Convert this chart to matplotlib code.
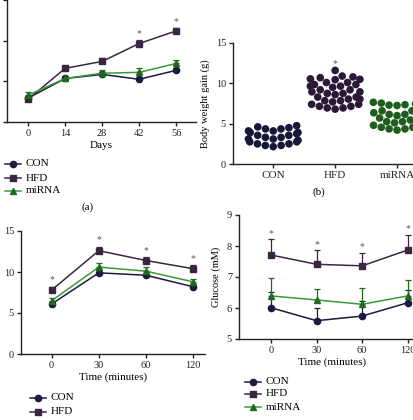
import matplotlib
matplotlib.use("Agg")
import matplotlib.pyplot as plt
import seaborn as sns
import numpy as np
import pandas as pd
from matplotlib.lines import Line2D
import warnings
warnings.filterwarnings("ignore")

plt.rcParams['font.family'] = ['Liberation Serif', 'DejaVu Serif']

W, H = 414, 420

# ---------------- data ----------------
groups = ["CON", "HFD", "miRNA"]

# (a) body weight over days
days = [0, 14, 28, 42, 56]
a_con = [5.9, 10.7, 11.7, 10.5, 12.7]
a_hfd = [5.6, 13.2, 14.9, 19.3, 22.4]
a_mir = [6.6, 10.7, 12.0, 12.2, 14.4]
a_con_err = [0.5, 0.4, 0.6, 0.5, 0.5]
a_hfd_err = [0.6, 0.4, 0.8, 0.8, 0.7]
a_mir_err = [0.7, 0.5, 0.8, 1.0, 0.8]
a_yticks = [0, 10, 20, 30]

# (b) body weight gain per animal
b_con = [4.75, 4.6, 4.5,
         3.75, 3.9, 3.9, 4.1, 4.1, 4.35, 4.35,
         2.95, 3.1, 3.1, 3.3, 3.3, 3.55, 3.55,
         2.15, 2.3, 2.3, 2.5, 2.5, 2.75, 2.75]
b_hfd = [11.6,
         10.45, 10.5, 10.55, 10.7, 10.8, 10.9,
         9.5, 9.65, 9.65, 9.85, 9.85, 10.1, 10.1,
         8.6, 8.75, 8.75, 8.95, 8.95, 9.2, 9.2,
         7.7, 7.85, 7.85, 8.05, 8.05, 8.3, 8.3,
         6.8, 6.95, 6.95, 7.15, 7.15, 7.4, 7.4]
b_mir = [7.25, 7.3, 7.35, 7.45, 7.55, 7.65,
         6.0, 6.15, 6.15, 6.35, 6.35, 6.6, 6.6,
         5.1, 5.25, 5.25, 5.45, 5.45, 5.7, 5.7,
         4.2, 4.35, 4.35, 4.55, 4.55, 4.8, 4.8]

# (c) glucose tolerance
time_labels = ["0", "30", "60", "120"]
c_con = [6.1, 9.9, 9.6, 8.2]
c_hfd = [7.8, 12.6, 11.4, 10.4]
c_mir = [6.5, 10.6, 10.1, 8.8]
c_con_err = [0.3, 0.3, 0.3, 0.3]
c_hfd_err = [0.4, 0.5, 0.4, 0.4]
c_mir_err = [0.3, 0.5, 0.5, 0.4]

# (d) glucose
d_con = [6.01, 5.59, 5.74, 6.17]
d_hfd = [7.71, 7.41, 7.36, 7.87]
d_mir = [6.39, 6.26, 6.12, 6.39]
d_con_err = [0.50, 0.40, 0.50, 0.42]
d_hfd_err = [0.50, 0.45, 0.42, 0.48]
d_mir_err = [0.58, 0.34, 0.53, 0.50]

col_con = '#1b1b3f'
col_hfd = '#3b2642'
col_mir_line = '#3a9a3a'
col_mir_mk = '#1f6a1f'
swarm_cols = ['#17173a', '#2a1838', '#1d5e1d']
axis_col = '#222222'


def rect(x0, ytop, x1, ybot):
    return [x0 / W, 1 - ybot / H, (x1 - x0) / W, (ybot - ytop) / H]


def style(ax):
    for s in ['top', 'right']:
        ax.spines[s].set_visible(False)
    for s in ['left', 'bottom']:
        ax.spines[s].set_color(axis_col)
        ax.spines[s].set_linewidth(1.0)
    ax.tick_params(direction='out', length=3, width=1.0, colors=axis_col,
                   labelsize=7.5, pad=2)


def draw_series(ax, x, y, err, color, mcolor, marker, ms):
    ax.errorbar(x, y, yerr=[np.zeros(len(err)), err], color=color, lw=1.1,
                marker=marker, ms=ms, mfc=mcolor, mec=mcolor, capsize=2,
                elinewidth=0.9, capthick=0.9, ecolor=mcolor, zorder=3)


fig = plt.figure(figsize=(W / 100, H / 100), dpi=100)

# ---------------- (a) ----------------
axa = fig.add_axes(rect(7, 0, 196, 122))
style(axa)
draw_series(axa, days, a_con, a_con_err, col_con, col_con, 'o', 4.5)
draw_series(axa, days, a_hfd, a_hfd_err, col_hfd, col_hfd, 's', 4.5)
draw_series(axa, days, a_mir, a_mir_err, col_mir_line, col_mir_mk, '^', 4.5)
for i in [3, 4]:
    axa.text(days[i], a_hfd[i] + a_hfd_err[i] + 0.6, '*', ha='center', va='bottom',
             fontsize=7, color='#555555')
axa.set_xlim(-8, 63.5)
axa.set_ylim(0, 30)
axa.set_xticks(days)
axa.set_yticks(a_yticks)
axa.set_xlabel('Days', fontsize=8, labelpad=2)

# ---------------- (b) ----------------
axb = fig.add_axes(rect(233, 43, 428, 164))
style(axb)
df = pd.DataFrame({
    'group': ['CON'] * len(b_con) + ['HFD'] * len(b_hfd) + ['miRNA'] * len(b_mir),
    'val': b_con + b_hfd + b_mir})
sns.swarmplot(data=df, x='group', y='val', hue='group', palette=swarm_cols,
              order=groups, size=5.5, ax=axb, legend=False, zorder=3)
axb.set_xlim(-0.65, 2.5)
axb.set_ylim(0, 15)
axb.set_yticks([0, 5, 10, 15])
axb.set_xlabel('')
axb.set_ylabel('Body weight gain (g)', fontsize=7.5, labelpad=4)
axb.text(1, max(b_hfd) + 0.3, '*', ha='center', va='bottom', fontsize=7, color='#555555')
axb.tick_params(axis='x', labelsize=8)

# ---------------- (c) ----------------
axc = fig.add_axes(rect(21, 231, 205, 354))
style(axc)
xs = np.arange(len(time_labels))
draw_series(axc, xs, c_con, c_con_err, col_con, col_con, 'o', 4.5)
draw_series(axc, xs, c_hfd, c_hfd_err, col_hfd, col_hfd, 's', 4.5)
draw_series(axc, xs, c_mir, c_mir_err, col_mir_line, col_mir_mk, '^', 4.5)
for i in range(4):
    axc.text(xs[i], c_hfd[i] + c_hfd_err[i] + 0.3, '*', ha='center', va='bottom',
             fontsize=7, color='#555555')
axc.set_xlim(-0.65, 3.25)
axc.set_ylim(0, 15)
axc.set_yticks([0, 5, 10, 15])
axc.set_xticks(xs)
axc.set_xticklabels(time_labels)
axc.set_xlabel('Time (minutes)', fontsize=8, labelpad=2)
axc.set_ylabel('Glucose (mM)', fontsize=7.5, labelpad=4)

# ---------------- (d) ----------------
axd = fig.add_axes(rect(239, 215, 426, 339))
style(axd)
draw_series(axd, xs, d_con, d_con_err, col_con, col_con, 'o', 4.5)
draw_series(axd, xs, d_hfd, d_hfd_err, col_hfd, col_hfd, 's', 4.5)
draw_series(axd, xs, d_mir, d_mir_err, col_mir_line, col_mir_mk, '^', 4.5)
for i in range(4):
    axd.text(xs[i], d_hfd[i] + d_hfd_err[i] + 0.05, '*', ha='center', va='bottom',
             fontsize=7, color='#555555')
axd.set_xlim(-0.7, 3.4)
axd.set_ylim(5, 9)
axd.set_yticks([5, 6, 7, 8, 9])
axd.set_xticks(xs)
axd.set_xticklabels(time_labels)
axd.set_xlabel('Time (minutes)', fontsize=8, labelpad=2)
axd.set_ylabel('Glucose (mM)', fontsize=7.5, labelpad=4)


# ---------------- legends ----------------
def legend(xm, xt, ys):
    specs = [('CON', col_con, col_con, 'o'), ('HFD', col_hfd, col_hfd, 's'),
             ('miRNA', col_mir_line, col_mir_mk, '^')]
    for (lab, lc, mc, mk), y in zip(specs, ys):
        fy = 1 - y / H
        fig.add_artist(Line2D([(xm - 8) / W, (xm + 8) / W], [fy, fy], color=lc,
                              lw=1.1, transform=fig.transFigure))
        fig.add_artist(Line2D([xm / W], [fy], marker=mk, ms=4.5, color=mc, lw=0,
                              transform=fig.transFigure))
        fig.text(xt / W, fy, lab, fontsize=8, va='center', ha='left')


legend(13, 26, [164, 178, 191])
legend(38, 51, [398, 412, 426])
legend(253, 266, [382, 394, 407])

fig.text(88 / W, 1 - 207 / H, '(a)', fontsize=8, ha='center', va='center')
fig.text(319 / W, 1 - 192 / H, '(b)', fontsize=8, ha='center', va='center')

fig.savefig('out.png', dpi=100)
